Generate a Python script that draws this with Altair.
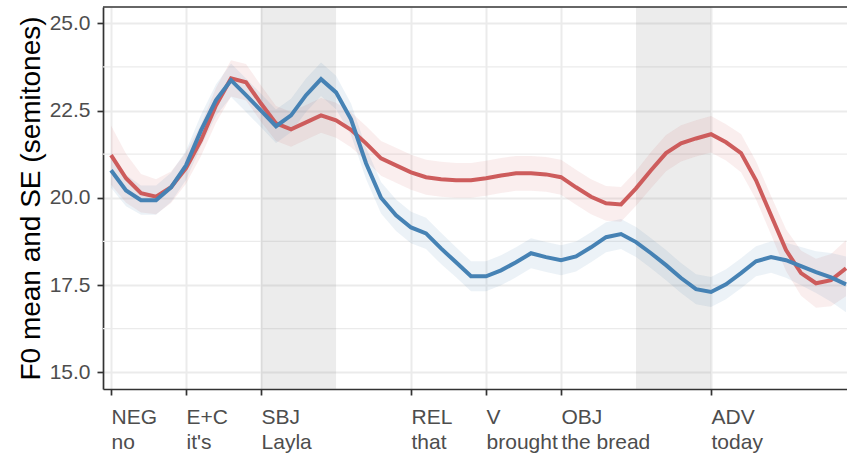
import json
import altair as alt
import pandas as pd

# ---- data ----
x_pos = [1.0, 1.2, 1.4, 1.6, 1.8, 2.0, 2.2, 2.4, 2.6, 2.8,
         3.0, 3.2, 3.4, 3.6, 3.8, 4.0, 4.2, 4.4, 4.6, 4.8,
         5.0, 5.2, 5.4, 5.6, 5.8, 6.0, 6.2, 6.4, 6.6, 6.8,
         7.0, 7.2, 7.4, 7.6, 7.8, 8.0, 8.2, 8.4, 8.6, 8.8,
         9.0, 9.2, 9.4, 9.6, 9.8, 10.0, 10.2, 10.4, 10.6, 10.8]

red_mean = [21.22, 20.56, 20.13, 20.03, 20.30, 20.85, 21.65, 22.65, 23.42, 23.31,
            22.70, 22.13, 21.96, 22.16, 22.36, 22.22, 21.95, 21.56, 21.13, 20.93,
            20.73, 20.59, 20.53, 20.50, 20.50, 20.56, 20.64, 20.70, 20.70, 20.67,
            20.59, 20.30, 20.03, 19.84, 19.81, 20.27, 20.79, 21.28, 21.56, 21.70,
            21.82, 21.59, 21.28, 20.50, 19.50, 18.50, 17.84, 17.55, 17.64, 17.98]
red_se = [0.85, 0.70, 0.55, 0.50, 0.45, 0.45, 0.45, 0.50, 0.52, 0.52,
          0.52, 0.50, 0.50, 0.50, 0.50, 0.50, 0.50, 0.50, 0.50, 0.50,
          0.50, 0.50, 0.50, 0.50, 0.50, 0.50, 0.50, 0.50, 0.50, 0.50,
          0.50, 0.50, 0.50, 0.50, 0.50, 0.50, 0.52, 0.52, 0.52, 0.52,
          0.52, 0.52, 0.55, 0.55, 0.55, 0.60, 0.65, 0.70, 0.75, 0.80]

blue_mean = [20.79, 20.21, 19.93, 19.93, 20.30, 20.93, 21.93, 22.80, 23.37, 22.94,
             22.50, 22.05, 22.36, 22.94, 23.40, 23.02, 22.25, 20.99, 20.00, 19.50,
             19.15, 18.98, 18.55, 18.15, 17.75, 17.75, 17.92, 18.15, 18.41, 18.30,
             18.21, 18.32, 18.58, 18.87, 18.96, 18.73, 18.41, 18.07, 17.70, 17.38,
             17.30, 17.52, 17.84, 18.18, 18.30, 18.21, 18.04, 17.87, 17.72, 17.52]
blue_se = [0.50, 0.45, 0.42, 0.42, 0.42, 0.42, 0.45, 0.45, 0.48, 0.48,
           0.48, 0.48, 0.48, 0.48, 0.48, 0.48, 0.45, 0.45, 0.45, 0.45,
           0.45, 0.45, 0.45, 0.43, 0.43, 0.43, 0.43, 0.43, 0.43, 0.43,
           0.43, 0.43, 0.43, 0.43, 0.43, 0.43, 0.43, 0.43, 0.43, 0.43,
           0.43, 0.43, 0.43, 0.43, 0.45, 0.50, 0.55, 0.60, 0.70, 0.80]

tick_values = [1, 2, 3, 5, 6, 7, 9]
tick_top = ["NEG", "E+C", "SBJ", "REL", "V", "OBJ", "ADV"]
tick_bottom = ["no", "it's", "Layla", "that", "brought", "the bread", "today"]

shade_start = [3, 8]
shade_end = [4, 9]

y_major = [15.0, 17.5, 20.0, 22.5, 25.0]
y_minor = [16.25, 18.75, 21.25, 23.75]

groups = ["cond A", "cond B"]
group_colors = ["#CD5C5C", "#4682B4"]

# ---- tables ----
rows = []
for g, means, ses in [(groups[0], red_mean, red_se), (groups[1], blue_mean, blue_se)]:
    for xv, m, s in zip(x_pos, means, ses):
        rows.append({"x": xv, "mean": m, "lo": m - s, "hi": m + s, "group": g})
df = pd.DataFrame(rows)
shade_df = pd.DataFrame({"start": shade_start, "end": shade_end})
minor_df = pd.DataFrame({"y": y_minor})

expr = ""
for v, a, b in zip(tick_values, tick_top, tick_bottom):
    expr += f"datum.value == {v} ? {json.dumps([a, b])} : "
expr += "''"

W, H = 744, 382
xscale = alt.Scale(domain=[0.893, 10.813], nice=False, zero=False)
yscale = alt.Scale(domain=[14.52, 25.467], nice=False, zero=False)
cscale = alt.Scale(domain=groups, range=group_colors)

xaxis = alt.Axis(values=tick_values, labelExpr=expr, title=None, labelAlign="left",
                 labelBaseline="top", labelLineHeight=25, labelPadding=11,
                 tickSize=6, labelOverlap=False, labelFlush=False, grid=True)
yaxis = alt.Axis(values=y_major, format=".1f", title="F0 mean and SE (semitones)",
                 tickSize=6, labelPadding=7, titlePadding=4, grid=True,
                 labelOverlap=False, labelFlush=False)

X = alt.X("x:Q", scale=xscale, axis=xaxis)

minor = alt.Chart(minor_df).mark_rule(color="#EBEBEB", strokeWidth=1.2).encode(
    y=alt.Y("y:Q", scale=yscale, axis=yaxis)
)
shade = alt.Chart(shade_df).mark_rect(color="#7F7F7F", opacity=0.15).encode(
    x=alt.X("start:Q", scale=xscale, axis=xaxis), x2="end:Q"
)
band = alt.Chart(df).mark_area(fillOpacity=0.1, strokeWidth=0).encode(
    x=X,
    y=alt.Y("lo:Q", scale=yscale, axis=yaxis, stack=None),
    y2="hi:Q",
    fill=alt.Fill("group:N", scale=cscale, legend=None),
)
line = alt.Chart(df).mark_line(strokeWidth=4).encode(
    x=X,
    y=alt.Y("mean:Q", scale=yscale, axis=yaxis),
    stroke=alt.Stroke("group:N", scale=cscale, legend=None),
)
top_border = alt.Chart(pd.DataFrame({"a": [0]})).mark_rule(
    color="#333333", strokeWidth=1.7
).encode(y=alt.value(0), x=alt.value(0), x2=alt.value(W))

chart = alt.layer(minor, shade, band, line, top_border).properties(
    width=W, height=H,
    padding={"left": 103, "top": 7, "right": 0, "bottom": 65},
    autosize=alt.AutoSizeParams(type="none"),
).configure_view(strokeWidth=0).configure_axis(
    gridColor="#EBEBEB", gridWidth=2,
    domainColor="#333333", domainWidth=1.7,
    tickColor="#333333", tickWidth=1.7,
    labelColor="#4D4D4D", labelFont="Liberation Sans", labelFontSize=21,
    titleFont="Liberation Sans", titleFontSize=28, titleColor="black",
    titleFontWeight="normal",
)

chart.save("out.html", embed_options={"renderer": "svg", "actions": False})
